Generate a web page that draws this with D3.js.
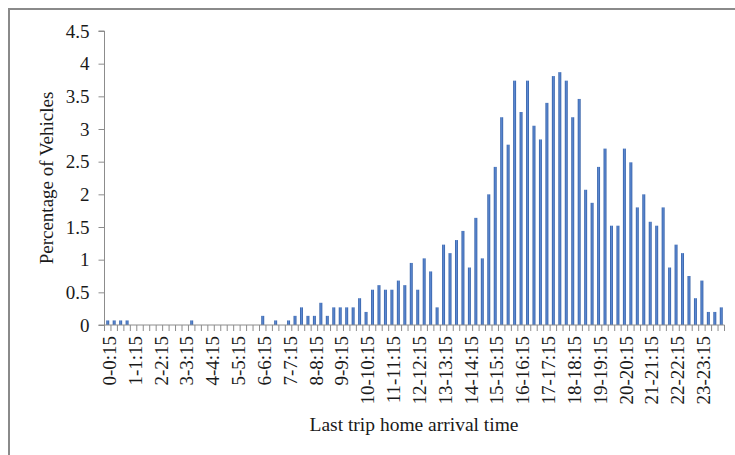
<!DOCTYPE html>
<html>
<head>
<meta charset="utf-8">
<script src="https://cdn.jsdelivr.net/npm/d3@7"></script>
<style>
  html, body { margin: 0; padding: 0; background: #fff; }
  svg { display: block; }
  text { font-family: "Liberation Serif", "Times New Roman", serif; fill: #1a1a1a; }
</style>
</head>
<body>
<svg id="chart" width="735" height="455"></svg>
<script>
// ---- data ----
const tickLabels = ["0-0:15","1-1:15","2-2:15","3-3:15","4-4:15","5-5:15","6-6:15","7-7:15",
  "8-8:15","9-9:15","10-10:15","11-11:15","12-12:15","13-13:15","14-14:15","15-15:15",
  "16-16:15","17-17:15","18-18:15","19-19:15","20-20:15","21-21:15","22-22:15","23-23:15"];
const values = [
  0.07,0.07,0.07,0.07, 0,0,0,0, 0,0,0,0, 0,0.07,0,0,
  0,0,0,0, 0,0,0,0, 0.14,0,0.07,0, 0.07,0.14,0.27,0.14,
  0.14,0.34,0.14,0.27, 0.27,0.27,0.27,0.41, 0.2,0.54,0.61,0.54, 0.54,0.68,0.61,0.95,
  0.54,1.02,0.82,0.27, 1.23,1.10,1.30,1.44, 0.88,1.64,1.02,2.0, 2.42,3.18,2.76,3.74,
  3.26,3.74,3.05,2.84, 3.40,3.81,3.87,3.74, 3.18,3.46,2.07,1.87, 2.42,2.70,1.52,1.52,
  2.70,2.49,1.80,2.0, 1.58,1.52,1.80,0.88, 1.23,1.10,0.75,0.41, 0.68,0.2,0.2,0.27
];
const yTicks = [0,0.5,1,1.5,2,2.5,3,3.5,4,4.5];
const yTitle = "Percentage of Vehicles";
const xTitle = "Last trip home arrival time";

// categories: one per 15-minute slot (index-based keys)
const categories = values.map((v, i) => i);

// ---- layout ----
const svg = d3.select("#chart");
const mLeft = 104.5, mRight = 724.5, mTop = 31, mBottom = 325;

const x = d3.scaleBand().domain(categories).range([mLeft, mRight]).paddingInner(0.54).paddingOuter(0.27);
const y = d3.scaleLinear().domain([0, 4.5]).range([mBottom, mTop]);

// outer frame (top & left visible)
svg.append("rect").attr("x", 9).attr("y", 9).attr("width", 760).attr("height", 460)
  .attr("fill", "none").attr("stroke", "#8a8a8a").attr("stroke-width", 2);

// gradient for bars
const defs = svg.append("defs");
const grad = defs.append("linearGradient").attr("id", "barGrad")
  .attr("x1", "0%").attr("x2", "100%").attr("y1", "0%").attr("y2", "0%");
grad.append("stop").attr("offset", "0%").attr("stop-color", "#2f5ca3");
grad.append("stop").attr("offset", "50%").attr("stop-color", "#5e8ad3");
grad.append("stop").attr("offset", "100%").attr("stop-color", "#2f5ca3");

// bars
svg.append("g").selectAll("rect").data(values).join("rect")
  .attr("x", (d, i) => x(categories[i]))
  .attr("width", x.bandwidth())
  .attr("y", d => y(d))
  .attr("height", d => y(0) - y(d))
  .attr("fill", "url(#barGrad)");

// y axis
const yAxis = d3.axisLeft(y).tickValues(yTicks).tickSize(6).tickPadding(9)
  .tickFormat(d => String(d));
const gy = svg.append("g").attr("transform", `translate(${mLeft},0)`).call(yAxis);
gy.select(".domain").attr("stroke", "#8c8c8c").attr("d", `M-6,${mBottom}H0V${mTop}H-6`);
gy.selectAll(".tick line").attr("stroke", "#8c8c8c");
gy.selectAll("text").attr("font-size", "19px").attr("fill", "#1a1a1a")
  .style("font-family", "'Liberation Serif', serif");

// x axis line and ticks at category boundaries
const step = x.step();
const x0 = mLeft;
const boundaries = d3.range(0, categories.length + 1);
const gx = svg.append("g");
gx.append("line").attr("x1", mLeft).attr("x2", mRight).attr("y1", mBottom).attr("y2", mBottom)
  .attr("stroke", "#8c8c8c");
gx.selectAll("line.tk").data(boundaries).join("line").attr("class", "tk")
  .attr("x1", d => x0 + d * step).attr("x2", d => x0 + d * step)
  .attr("y1", mBottom).attr("y2", mBottom + 6).attr("stroke", "#8c8c8c");

// x tick labels every 4 slots
gx.selectAll("text.xl").data(tickLabels).join("text").attr("class", "xl")
  .attr("transform", (d, i) => `translate(${x(categories[i * 4]) + x.bandwidth() / 2 + 1.5},${mBottom + 11}) rotate(-90)`)
  .attr("text-anchor", "end").attr("dy", "0.35em")
  .attr("font-size", "19px").text(d => d);

// titles
svg.append("text").attr("transform", `translate(46,178) rotate(-90)`)
  .attr("text-anchor", "middle").attr("dy", "0.35em").attr("font-size", "19px").text(yTitle);
svg.append("text").attr("x", 414).attr("y", 431)
  .attr("text-anchor", "middle").attr("font-size", "19.5px").text(xTitle);
</script>
</body>
</html>
